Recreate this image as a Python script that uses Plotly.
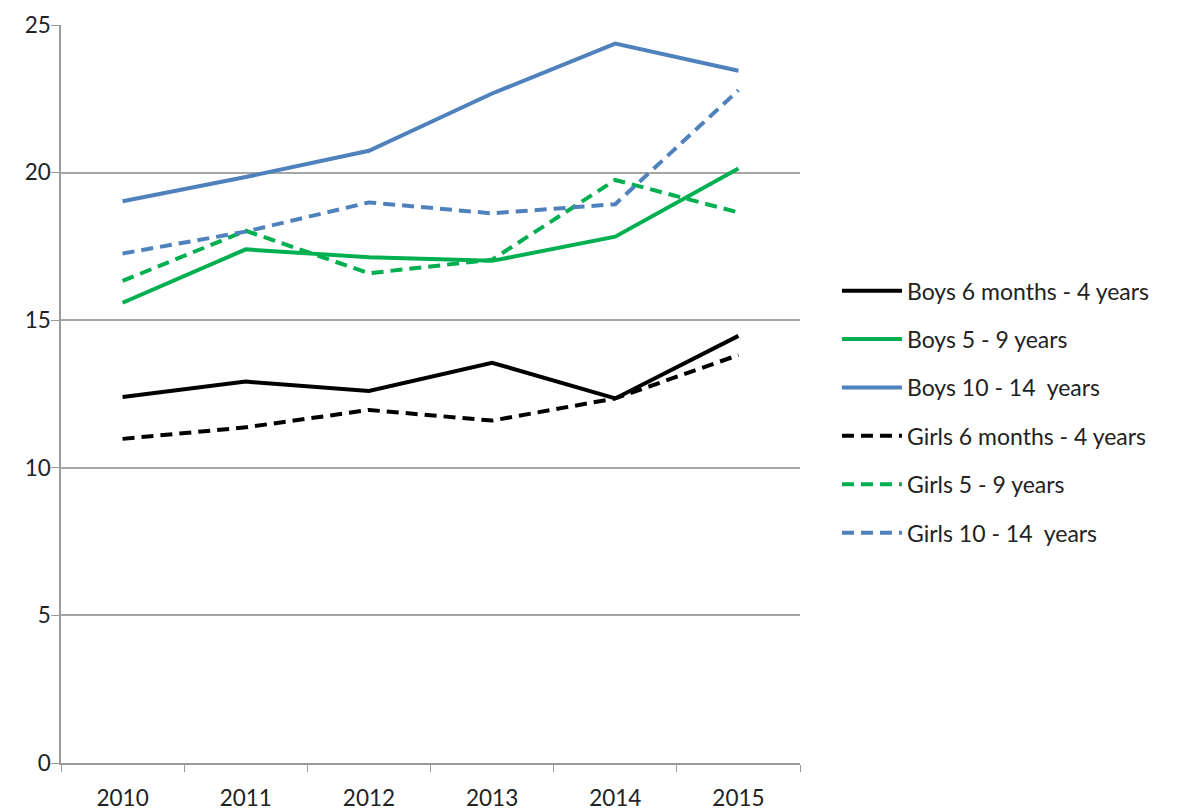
import plotly.graph_objects as go

years = ["2010", "2011", "2012", "2013", "2014", "2015"]
boys_6m_4y = [12.4, 12.92, 12.6, 13.56, 12.35, 14.47]
boys_5_9 = [15.59, 17.4, 17.13, 17.01, 17.83, 20.14]
boys_10_14 = [19.03, 19.85, 20.74, 22.68, 24.37, 23.45]
girls_6m_4y = [10.98, 11.37, 11.96, 11.6, 12.35, 13.82]
girls_5_9 = [16.33, 18.03, 16.59, 17.05, 19.75, 18.65]
girls_10_14 = [17.26, 18.0, 18.99, 18.62, 18.93, 22.79]

series = [
    ("Boys 6 months - 4 years", boys_6m_4y, "#000000", "solid"),
    ("Boys 5 - 9 years", boys_5_9, "#00B050", "solid"),
    ("Boys 10 - 14  years", boys_10_14, "#4F81BD", "solid"),
    ("Girls 6 months - 4 years", girls_6m_4y, "#000000", "12px,7px"),
    ("Girls 5 - 9 years", girls_5_9, "#00B050", "12px,7px"),
    ("Girls 10 - 14  years", girls_10_14, "#4F81BD", "12px,7px"),
]

fig = go.Figure()
for i, (name, vals, color, dash) in enumerate(series):
    fig.add_trace(go.Scatter(
        x=years, y=vals, name=name, mode="lines",
        line=dict(color=color, width=4, dash=dash),
        legendgroup=f"g{i}",
    ))

font_family = "Lato, 'Open Sans', sans-serif"
fig.update_layout(
    width=1177, height=810,
    margin=dict(l=53, r=385, t=17, b=55),
    plot_bgcolor="white", paper_bgcolor="white",
    font=dict(family=font_family, size=22, color="#222222"),
    showlegend=True,
    legend=dict(
        x=1.05, y=0.476, xanchor="left", yanchor="middle",
        font=dict(family=font_family, size=23, color="#222222"),
        tracegroupgap=15.5, itemwidth=60,
        bgcolor="rgba(0,0,0,0)",
    ),
    xaxis=dict(
        type="category", range=[-0.5, 5.5], automargin=False,
        tickson="boundaries", ticks="outside", ticklen=7, tickcolor="#9a9a9a",
        ticklabelstandoff=14,
        showline=True, linecolor="#9a9a9a", linewidth=1.5,
        showgrid=False, tickfont=dict(size=22.5, color="#222222"),
        fixedrange=True,
    ),
    yaxis=dict(
        range=[0, 25], dtick=5, tick0=0, automargin=False,
        ticks="outside", ticklen=8, tickcolor="#9a9a9a",
        ticklabelstandoff=-4,
        showline=True, linecolor="#9a9a9a", linewidth=1.5,
        showgrid=True, gridcolor="#a6a6a6", gridwidth=1.5,
        zeroline=False, tickfont=dict(size=22.5, color="#222222"),
        fixedrange=True,
    ),
)

fig.write_html("out.html")
